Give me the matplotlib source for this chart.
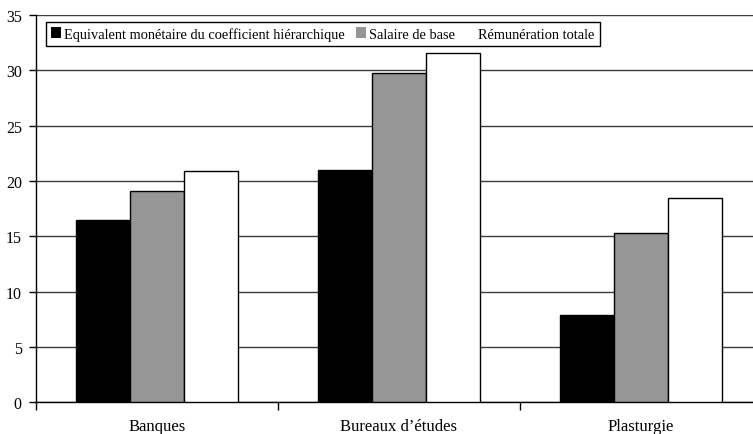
import matplotlib
matplotlib.use("Agg")
import matplotlib.pyplot as plt
import numpy as np
from matplotlib.patches import Patch

plt.rcParams['font.family'] = ['Liberation Serif', 'DejaVu Serif']

categories = ['Banques', 'Bureaux d\u2019études', 'Plasturgie']
series_names = ['Equivalent monétaire du coefficient hiérarchique',
                'Salaire de base',
                'Rémunération totale']
equivalent = [16.5, 21.0, 7.9]
salaire_base = [19.1, 29.8, 15.3]
remuneration = [20.9, 31.6, 18.5]
yticks = [0, 5, 10, 15, 20, 25, 30, 35]

colors = ['#000000', '#969696', '#ffffff']

fig = plt.figure(figsize=(7.53, 4.35), dpi=100)
ax = fig.add_axes([0.0474, 0.0731, 0.9642, 0.8901])

x = np.arange(len(categories))
w = 0.223
for i, (vals, col) in enumerate(zip([equivalent, salaire_base, remuneration], colors)):
    ax.bar(x + (i - 1) * w + 0.003, vals, width=w, color=col,
           edgecolor='black', linewidth=1, zorder=3)

ax.set_xlim(-0.5, 2.5)
ax.set_ylim(0, 35)
ax.set_yticks(yticks)
ax.set_yticklabels([str(v) for v in yticks], fontsize=11.5)
ax.yaxis.grid(True, color='#3a3a3a', linewidth=1, zorder=0)
ax.set_axisbelow(True)

# category ticks sit between groups
ax.set_xticks([-0.5, 0.5, 1.5, 2.5])
ax.set_xticklabels([])
ax.set_xticks(x, minor=True)
ax.set_xticklabels(categories, minor=True, fontsize=12)
ax.tick_params(axis='x', which='minor', length=0, pad=11.5)
ax.tick_params(axis='x', which='major', length=6, width=1, direction='out')
ax.tick_params(axis='y', length=5, width=1, direction='out', pad=5)

for s in ['top', 'right']:
    ax.spines[s].set_visible(False)
ax.spines['left'].set_linewidth(1)
ax.spines['bottom'].set_linewidth(1)

handles = [Patch(facecolor=c, edgecolor='none') for c in colors]
leg = ax.legend(handles, series_names, loc='upper left', ncol=3,
                bbox_to_anchor=(46 / 753, 1 - 22.7 / 435),
                bbox_transform=fig.transFigure,
                fontsize=10.4, frameon=True, fancybox=False,
                handlelength=0.7, handleheight=0.7, handletextpad=0.2,
                columnspacing=0.75, borderpad=0.35, borderaxespad=0)
leg.get_frame().set_edgecolor('black')
leg.get_frame().set_linewidth(1)
leg.get_frame().set_alpha(1)

fig.savefig('out.png', dpi=100)
